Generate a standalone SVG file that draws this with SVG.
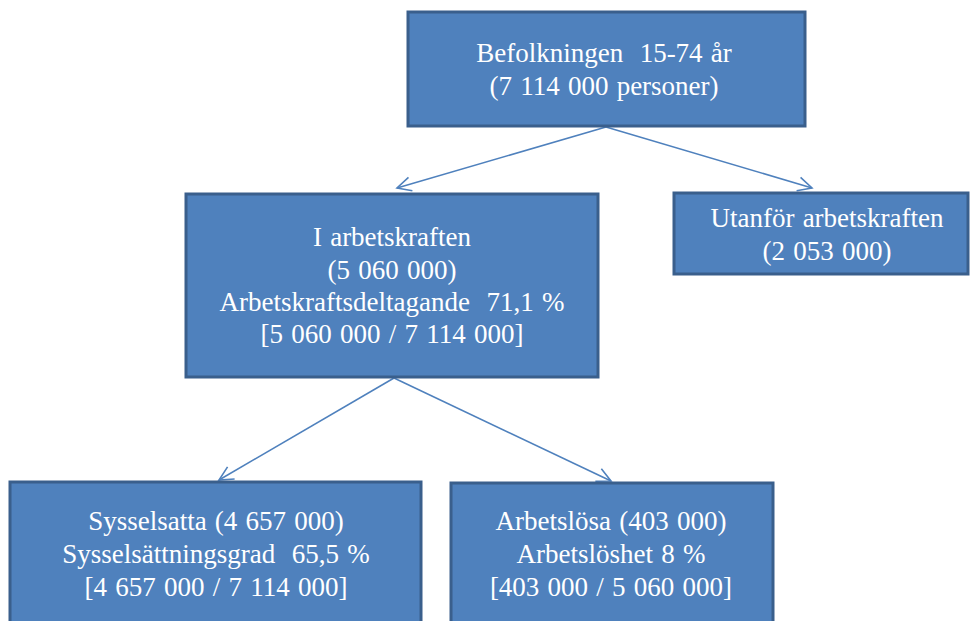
<svg xmlns="http://www.w3.org/2000/svg" width="970" height="621" viewBox="0 0 970 621">
<style>
.box{fill:#4F81BD;stroke:#3A5F8C;stroke-width:3}
.t{font-family:"Liberation Serif","Times New Roman",serif;font-size:27px;fill:#FFFFFF;text-anchor:middle;white-space:pre;word-spacing:1.5px}
.c{stroke:#4F81BD;stroke-width:1.6;fill:none}
</style>
<defs>
<marker id="ah" markerUnits="userSpaceOnUse" markerWidth="20" markerHeight="20" refX="0" refY="0" viewBox="-16 -10 20 20" orient="auto">
<path d="M-14,-7 L0,0 L-14,7" fill="none" stroke="#4F81BD" stroke-width="1.6"/>
</marker>
</defs>
<rect width="970" height="621" fill="#FFFFFF"/>
<g id="connectors">
<line class="c" x1="606" y1="127" x2="397" y2="188" marker-end="url(#ah)"/>
<line class="c" x1="606" y1="127" x2="812" y2="188" marker-end="url(#ah)"/>
<line class="c" x1="394" y1="378" x2="219" y2="480" marker-end="url(#ah)"/>
<line class="c" x1="394" y1="378" x2="611" y2="481" marker-end="url(#ah)"/>
</g>
<g id="node-befolkningen">
<rect class="box" x="408" y="12" width="397" height="114"/>
<text class="t" x="604" y="62" xml:space="preserve">Befolkningen  15-74 år</text>
<text class="t" x="604" y="95">(7 114 000 personer)</text>
</g>
<g id="node-i-arbetskraften">
<rect class="box" x="186" y="194" width="412" height="183"/>
<text class="t" x="392" y="246">I arbetskraften</text>
<text class="t" x="392" y="279">(5 060 000)</text>
<text class="t" x="392" y="311" xml:space="preserve">Arbetskraftsdeltagande  71,1 %</text>
<text class="t" x="392" y="343">[5 060 000 / 7 114 000]</text>
</g>
<g id="node-utanfor">
<rect class="box" x="674" y="193" width="294" height="81"/>
<text class="t" x="827" y="227">Utanför arbetskraften</text>
<text class="t" x="827" y="260">(2 053 000)</text>
</g>
<g id="node-sysselsatta">
<rect class="box" x="10" y="482" width="411" height="150"/>
<text class="t" x="216" y="530">Sysselsatta (4 657 000)</text>
<text class="t" x="216" y="563" xml:space="preserve">Sysselsättningsgrad  65,5 %</text>
<text class="t" x="216" y="596">[4 657 000 / 7 114 000]</text>
</g>
<g id="node-arbetslosa">
<rect class="box" x="451" y="483" width="322" height="150"/>
<text class="t" x="611" y="530">Arbetslösa (403 000)</text>
<text class="t" x="611" y="563">Arbetslöshet 8 %</text>
<text class="t" x="611" y="596">[403 000 / 5 060 000]</text>
</g>
</svg>
